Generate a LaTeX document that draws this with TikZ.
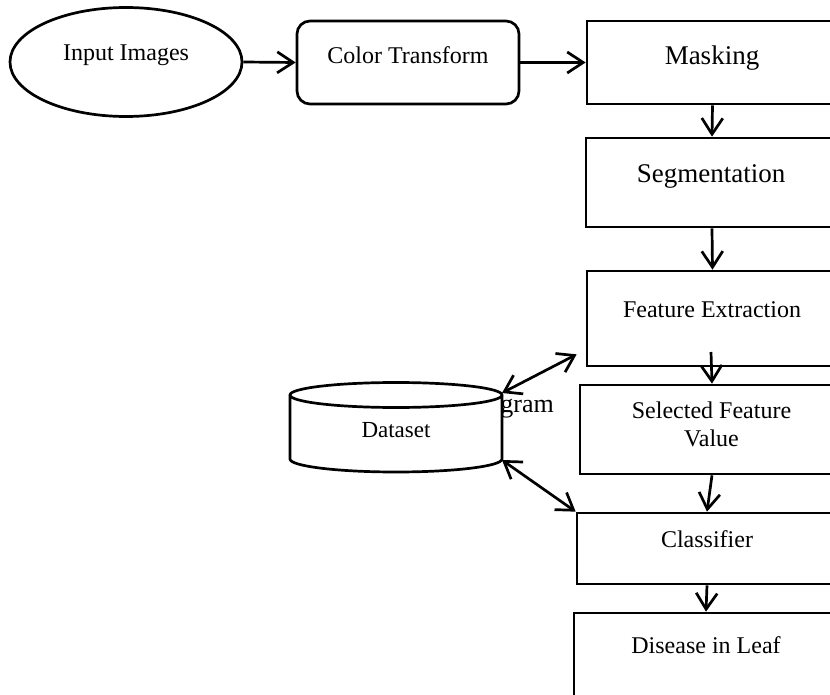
\documentclass[tikz,border=0pt]{standalone}
\usepackage{fontspec}
\setmainfont{Liberation Serif}
\usetikzlibrary{arrows.meta,shapes.geometric,calc}
\begin{document}
\begin{tikzpicture}[x=1pt,y=1pt, line width=2.7pt,
  box/.style={draw, rectangle, inner sep=0pt},
  txt/.style={font=\fontsize{24}{28}\selectfont, anchor=base, inner sep=0pt},
  big/.style={font=\fontsize{27}{31}\selectfont, anchor=base, inner sep=0pt},
  arr/.style={-{Straight Barb[length=16pt,width=21pt]}},
  darr/.style={{Straight Barb[length=16pt,width=21pt]}-{Straight Barb[length=16pt,width=21pt]}}]
\useasboundingbox (0,0) rectangle (830,-695);
\clip (0,0) rectangle (830,-695);

% nodes
\node[draw, ellipse, inner sep=0pt, minimum width=232pt, minimum height=109pt] (inp) at (126,-62) {};
\node[txt] (inpt) at (126,-61) {Input Images};

\node[box, rounded corners=13pt, minimum width=222pt, minimum height=83pt] (ct) at (408,-62.5) {};
\node[txt] (ctt) at (408,-64) {Color Transform};

\node[box, minimum width=251pt, minimum height=83pt] (mask) at (712.5,-62.5) {};
\node[big] (maskt) at (712,-65) {Masking};

\node[box, minimum width=252pt, minimum height=89pt] (seg) at (712,-182.5) {};
\node[big] (segt) at (711,-183) {Segmentation};

\node[box, minimum width=251pt, minimum height=95pt] (feat) at (712.5,-318.5) {};
\node[txt] (featt) at (712,-317) {Feature Extraction};

\node[box, minimum width=264pt, minimum height=89pt] (sel) at (712,-429.5) {};
\node[txt, anchor=center, align=center] (selt) at (711.5,-424) {Selected Feature\\Value};

\node[box, minimum width=260pt, minimum height=71pt] (cls) at (707,-548.5) {};
\node[txt] (clst) at (707,-547) {Classifier};

\node[box, minimum width=264pt, minimum height=100pt] (dis) at (706,-663) {};
\node[txt] (dist) at (706,-653) {Disease in Leaf};

% partly hidden text
\node[font=\fontsize{26}{30}\selectfont, anchor=base west, inner sep=0pt] (gramt) at (499,-412) {gram};

% dataset cylinder
\draw[fill=white] (290,-395) -- (290,-459)
  arc[start angle=180, end angle=360, x radius=106pt, y radius=13pt]
  -- (502,-395)
  arc[start angle=0, end angle=180, x radius=106pt, y radius=12.5pt] -- cycle;
\draw (290,-395) arc[start angle=180, end angle=360, x radius=106pt, y radius=12.5pt];
\node[font=\fontsize{23}{27}\selectfont, anchor=base, inner sep=0pt] (data) at (396,-437) {Dataset};
\coordinate (dtop) at (502,-393);
\coordinate (dbot) at (502,-460);
\coordinate (fexit) at (711,-352);

% connectors
\draw[arr] (inp.east) -- (ct.west);
\draw[arr] (ct.east) -- (mask.west);
\draw[arr] (mask.south) -- (seg.north);
\draw[arr] (seg.south) -- (feat.north);
\draw[arr] (fexit) -- (sel.north);
\draw[arr] (sel.south) -- (cls.north);
\draw[arr] (cls.south) -- (dis.north);
\draw[darr] (dtop) -- ([shift={(-9pt,13pt)}]feat.south west);
\draw[darr] (dbot) -- (cls.north west);
\end{tikzpicture}
\end{document}
